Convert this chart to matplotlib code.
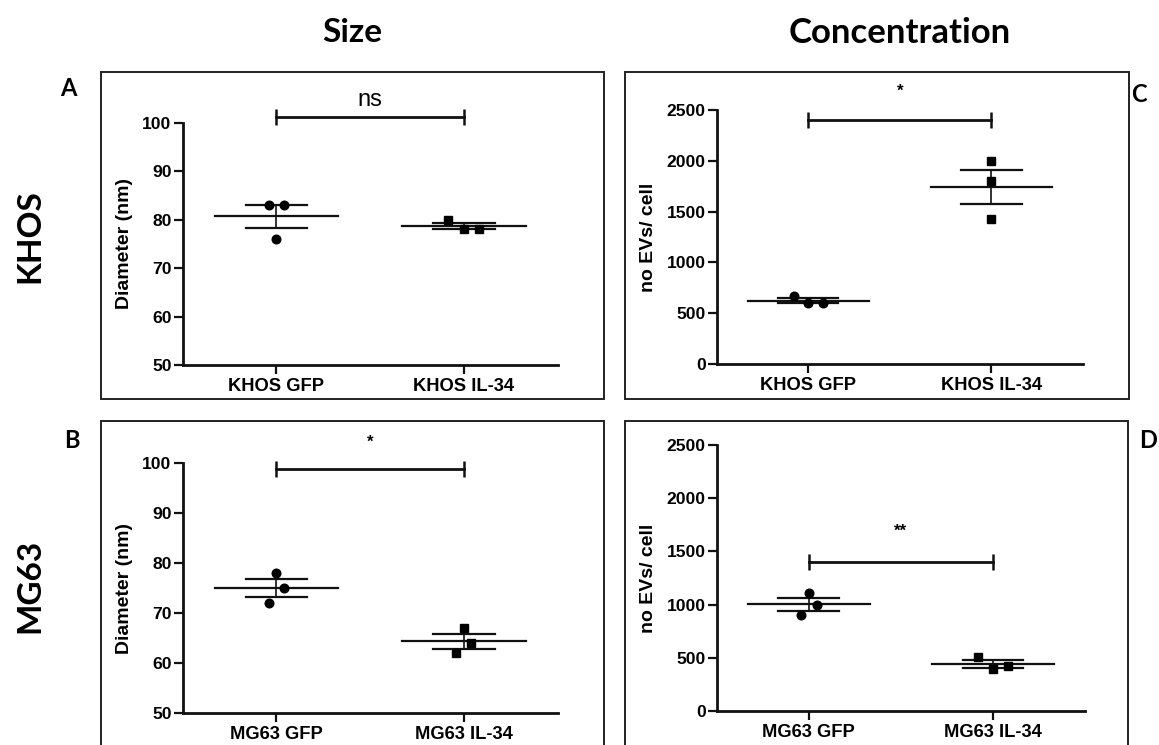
import numpy as np
import matplotlib
matplotlib.use("Agg")
import matplotlib.pyplot as plt
from matplotlib.patches import Rectangle

# ---------------- data ----------------
khos_labels = ["KHOS GFP", "KHOS IL-34"]
mg63_labels = ["MG63 GFP", "MG63 IL-34"]

khos_size_gfp = [83, 83, 76]
khos_size_il34 = [80, 78, 78]
mg63_size_gfp = [78, 75, 72]
mg63_size_il34 = [67, 64, 62]

khos_conc_gfp = [670, 600, 600]
khos_conc_il34 = [2000, 1800, 1430]
mg63_conc_gfp = [1110, 1000, 900]
mg63_conc_il34 = [510, 395, 420]

size_ticks = [50, 60, 70, 80, 90, 100]
conc_ticks = [0, 500, 1000, 1500, 2000, 2500]

sig_labels = ["ns", "*", "*", "**"]
sig_levels = [101.2, 98.7, 2400, 1400]
sig_text_levels = [104.7, 104.0, 2680, 1685]

col_titles = ["Size", "Concentration"]
row_titles = ["KHOS", "MG63"]
panel_letters = ["A", "B", "C", "D"]

# ---------------- layout ----------------
W, H = 1159, 745
DPI = 100
fig = plt.figure(figsize=(W / DPI, H / DPI), dpi=DPI)

TICKFONT = ["Liberation Sans", "DejaVu Sans"]
TITLEFONT = ["Lato", "DejaVu Sans"]


def px_axes(left, top, right, bottom):
    return fig.add_axes([left / W, 1 - bottom / H, (right - left) / W, (bottom - top) / H])


def frame(left, top, right, bottom):
    fig.patches.append(Rectangle((left / W, 1 - bottom / H), (right - left) / W, (bottom - top) / H,
                                 transform=fig.transFigure, fill=False, lw=1.4,
                                 edgecolor="#222222", zorder=0))


frame(101, 72, 604, 399)
frame(625, 72, 1129, 399)
frame(101, 421, 604, 750)
frame(625, 421, 1128, 750)

panels = [
    dict(box=(182.7, 122.7, 557.7, 365.0), labels=khos_labels,
         data=[khos_size_gfp, khos_size_il34], ylim=(50, 100), ticks=size_ticks,
         ylabel="Diameter (nm)", offs=[[-0.04, 0.04, 0.0], [-0.085, 0.0, 0.08]], ylx=-0.133),
    dict(box=(182.7, 462.7, 557.7, 713.3), labels=mg63_labels,
         data=[mg63_size_gfp, mg63_size_il34], ylim=(50, 100), ticks=size_ticks,
         ylabel="Diameter (nm)", offs=[[0.0, 0.04, -0.04], [0.0, 0.04, -0.04]], ylx=-0.133),
    dict(box=(716.7, 110.0, 1083.0, 364.0), labels=khos_labels,
         data=[khos_conc_gfp, khos_conc_il34], ylim=(0, 2500), ticks=conc_ticks,
         ylabel="no EVs/ cell", offs=[[-0.08, 0.0, 0.08], [0.0, 0.0, 0.0]], ylx=-0.163),
    dict(box=(716.7, 445.0, 1085.0, 711.0), labels=mg63_labels,
         data=[mg63_conc_gfp, mg63_conc_il34], ylim=(0, 2500), ticks=conc_ticks,
         ylabel="no EVs/ cell", offs=[[0.0, 0.045, -0.04], [-0.08, 0.0, 0.08]], ylx=-0.163),
]

for k, p in enumerate(panels):
    ax = px_axes(*p["box"])
    ax.set_xlim(-0.5, 1.5)
    ax.set_ylim(*p["ylim"])
    for s in ["top", "right"]:
        ax.spines[s].set_visible(False)
    for s in ["left", "bottom"]:
        ax.spines[s].set_linewidth(2.0)
        ax.spines[s].set_color("#111111")
    ax.set_xticks([0, 1])
    ax.set_xticklabels(p["labels"], fontsize=13.2, fontweight="bold", family=TICKFONT)
    ax.set_yticks(p["ticks"])
    ax.set_yticklabels([str(t) for t in p["ticks"]], fontsize=12.6, fontweight="bold", family=TICKFONT)
    ax.tick_params(axis="both", length=6.5, width=1.6, color="#111111", direction="out")
    ax.tick_params(axis="y", pad=1.5)
    ax.tick_params(axis="x", pad=3)
    ax.set_ylabel(p["ylabel"], fontsize=14, fontweight="bold", family=TICKFONT)
    ax.yaxis.set_label_coords(p["ylx"], 0.5)
    ax.patch.set_alpha(0)

    for gi, vals in enumerate(p["data"]):
        vals = np.array(vals, dtype=float)
        m = vals.mean()
        sem = vals.std(ddof=1) / np.sqrt(len(vals))
        xs = gi + np.array(p["offs"][gi])
        marker = "o" if gi == 0 else "s"
        ax.plot(xs, vals, linestyle="none", marker=marker, ms=6.2 if gi == 0 else 6.4,
                color="black", zorder=4, clip_on=False)
        ax.plot([gi - 0.33, gi + 0.33], [m, m], color="#111111", lw=1.6, zorder=3)
        ax.plot([gi - 0.165, gi + 0.165], [m + sem, m + sem], color="#111111", lw=1.6, zorder=3)
        ax.plot([gi - 0.165, gi + 0.165], [m - sem, m - sem], color="#111111", lw=1.6, zorder=3)
        ax.plot([gi, gi], [m - sem, m + sem], color="#111111", lw=1.2, zorder=3)

    # significance bar
    ax.plot([0, 1], [sig_levels[k], sig_levels[k]], color="#111111", lw=2.0,
            marker="|", ms=11, mew=1.8, clip_on=False)
    if sig_labels[k] == "ns":
        ax.text(0.5, sig_text_levels[k], sig_labels[k], ha="center", va="center",
                fontsize=17, family=TICKFONT, clip_on=False)
    else:
        ax.text(0.5, sig_text_levels[k], sig_labels[k], ha="center", va="center",
                fontsize=12, fontweight="bold", family=TICKFONT, clip_on=False)

# column and row titles
fig.text(352 / W, 1 - 33 / H, col_titles[0], ha="center", va="center",
         fontsize=24, fontweight="bold", family=TITLEFONT)
fig.text(900 / W, 1 - 33 / H, col_titles[1], ha="center", va="center",
         fontsize=25, fontweight="bold", family=TITLEFONT)
fig.text(30 / W, 1 - 236 / H, row_titles[0], ha="center", va="center", rotation=90,
         fontsize=24, fontweight="bold", family=TITLEFONT)
fig.text(30 / W, 1 - 586 / H, row_titles[1], ha="center", va="center", rotation=90,
         fontsize=24, fontweight="bold", family=TITLEFONT)

letter_pos = [(68, 89), (72, 440), (1139, 95), (1148, 440)]
for (lx, ly), lt in zip(letter_pos, panel_letters):
    fig.text(lx / W, 1 - ly / H, lt, ha="center", va="center",
             fontsize=17, fontweight="bold", family=TITLEFONT)

fig.savefig("out.png", dpi=DPI, facecolor="white")
